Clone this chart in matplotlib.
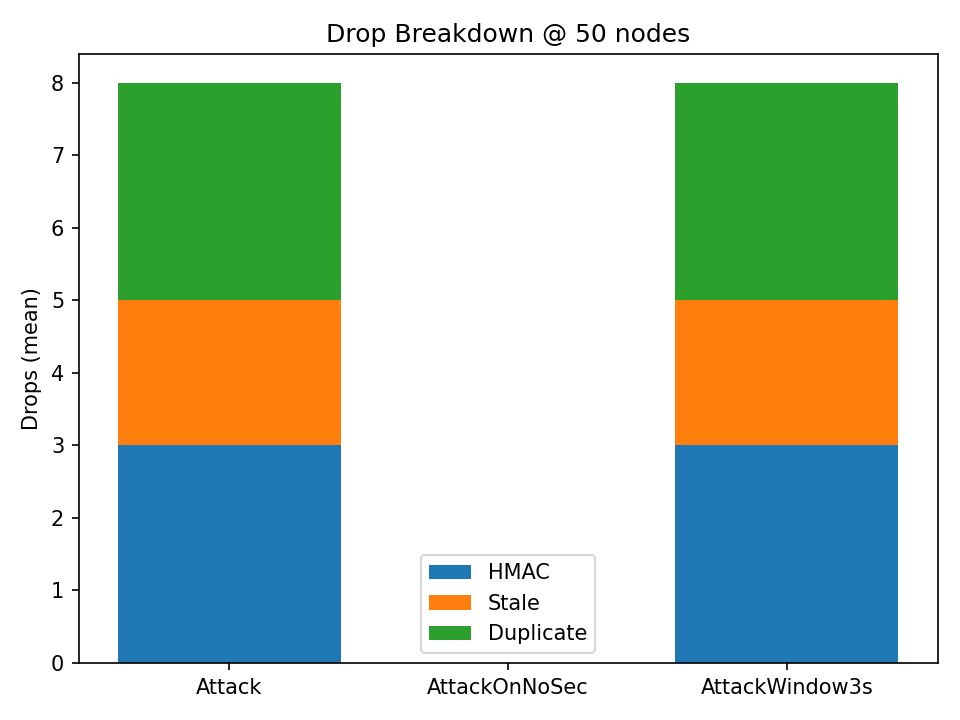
import numpy as np
import matplotlib
matplotlib.use("Agg")
import matplotlib.pyplot as plt

scenarios = ["Attack", "AttackOnNoSec", "AttackWindow3s"]
hmac = [3, 0, 3]
stale = [2, 0, 2]
duplicate = [3, 0, 3]

x = np.arange(len(scenarios))
fig, ax = plt.subplots(figsize=(6.4, 4.8), dpi=150)
ax.bar(x, hmac, label="HMAC")
ax.bar(x, stale, bottom=hmac, label="Stale")
ax.bar(x, duplicate, bottom=np.add(hmac, stale), label="Duplicate")
ax.set_xticks(x)
ax.set_xticklabels(scenarios)
ax.set_ylabel("Drops (mean)")
ax.set_title("Drop Breakdown @ 50 nodes")
ax.legend(loc="lower center")
fig.tight_layout()
fig.savefig("out.png", dpi=150)
